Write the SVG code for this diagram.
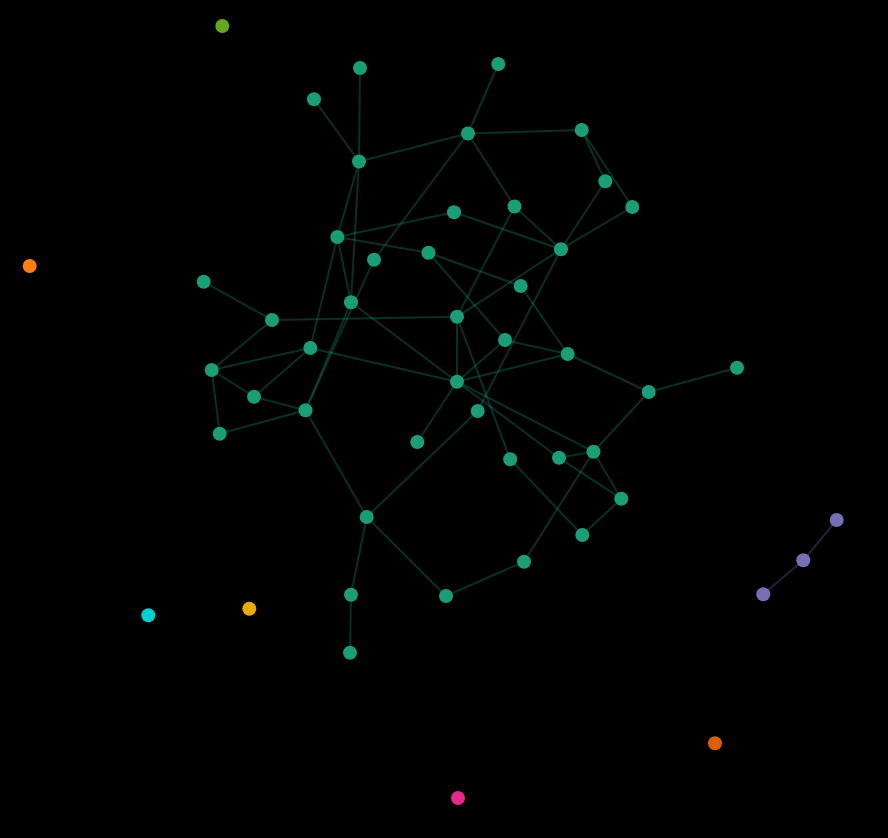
<svg xmlns="http://www.w3.org/2000/svg" width="888" height="838" viewBox="0 0 888 838">
<style>
.bg{fill:#000}
.e line{stroke:#1b9e77;stroke-opacity:0.3;stroke-width:2}
.ep line{stroke:#7570b3;stroke-opacity:0.3;stroke-width:2}
circle{r:7}
.g{fill:#1b9e77}
</style>
<rect class="bg" width="888" height="838"/>
<g id="connectors">
<g class="e">
<line x1="360" y1="68" x2="359" y2="161.5"/>
<line x1="314" y1="99.3" x2="359" y2="161.5"/>
<line x1="498.3" y1="64" x2="468" y2="133.5"/>
<line x1="468" y1="133.5" x2="359" y2="161.5"/>
<line x1="468" y1="133.5" x2="581.7" y2="130"/>
<line x1="468" y1="133.5" x2="514.5" y2="206.5"/>
<line x1="468" y1="133.5" x2="374" y2="259.7"/>
<line x1="581.7" y1="130" x2="605.3" y2="181.3"/>
<line x1="581.7" y1="130" x2="632.3" y2="207"/>
<line x1="605.3" y1="181.3" x2="561" y2="249.2"/>
<line x1="632.3" y1="207" x2="561" y2="249.2"/>
<line x1="514.5" y1="206.5" x2="561" y2="249.2"/>
<line x1="454" y1="212.3" x2="561" y2="249.2"/>
<line x1="454" y1="212.3" x2="337.3" y2="237"/>
<line x1="359" y1="161.5" x2="337.3" y2="237"/>
<line x1="359" y1="161.5" x2="351" y2="302.3"/>
<line x1="337.3" y1="237" x2="428.5" y2="252.7"/>
<line x1="337.3" y1="237" x2="351" y2="302.3"/>
<line x1="337.3" y1="237" x2="310.3" y2="348"/>
<line x1="514.5" y1="206.5" x2="457" y2="316.8"/>
<line x1="428.5" y1="252.7" x2="520.7" y2="286"/>
<line x1="428.5" y1="252.7" x2="505" y2="340"/>
<line x1="561" y1="249.2" x2="457" y2="316.8"/>
<line x1="561" y1="249.2" x2="477.7" y2="411"/>
<line x1="520.7" y1="286" x2="567.7" y2="354"/>
<line x1="505" y1="340" x2="567.7" y2="354"/>
<line x1="505" y1="340" x2="457" y2="381.7"/>
<line x1="457" y1="316.8" x2="457" y2="381.7"/>
<line x1="457" y1="316.8" x2="272" y2="320"/>
<line x1="457" y1="316.8" x2="510.2" y2="459.3"/>
<line x1="457" y1="381.7" x2="567.7" y2="354"/>
<line x1="457" y1="381.7" x2="310.3" y2="348"/>
<line x1="457" y1="381.7" x2="351" y2="302.3"/>
<line x1="457" y1="381.7" x2="417.3" y2="442"/>
<line x1="457" y1="381.7" x2="559" y2="457.8"/>
<line x1="457" y1="381.7" x2="593.5" y2="451.7"/>
<line x1="567.7" y1="354" x2="648.7" y2="392"/>
<line x1="648.7" y1="392" x2="737" y2="367.8"/>
<line x1="648.7" y1="392" x2="593.5" y2="451.7"/>
<line x1="559" y1="457.8" x2="593.5" y2="451.7"/>
<line x1="593.5" y1="451.7" x2="524" y2="561.7"/>
<line x1="593.5" y1="451.7" x2="621.3" y2="498.7"/>
<line x1="559" y1="457.8" x2="621.3" y2="498.7"/>
<line x1="477.7" y1="411" x2="366.7" y2="517"/>
<line x1="305.5" y1="410.3" x2="366.7" y2="517"/>
<line x1="366.7" y1="517" x2="351" y2="594.7"/>
<line x1="366.7" y1="517" x2="446" y2="596"/>
<line x1="446" y1="596" x2="524" y2="561.7"/>
<line x1="510.2" y1="459.3" x2="582.3" y2="535"/>
<line x1="582.3" y1="535" x2="621.3" y2="498.7"/>
<line x1="351" y1="594.7" x2="350" y2="652.7"/>
<line x1="203.7" y1="281.7" x2="272" y2="320"/>
<line x1="272" y1="320" x2="211.7" y2="370"/>
<line x1="211.7" y1="370" x2="310.3" y2="348"/>
<line x1="211.7" y1="370" x2="254" y2="396.7"/>
<line x1="211.7" y1="370" x2="219.7" y2="433.7"/>
<line x1="219.7" y1="433.7" x2="305.5" y2="410.3"/>
<line x1="254" y1="396.7" x2="305.5" y2="410.3"/>
<line x1="254" y1="396.7" x2="310.3" y2="348"/>
<line x1="374" y1="259.7" x2="305.5" y2="410.3"/>
<line x1="351" y1="302.3" x2="305.5" y2="410.3"/>
</g>
<g class="ep">
<line x1="836.7" y1="520" x2="803.3" y2="560.3"/>
<line x1="803.3" y1="560.3" x2="763.3" y2="594.3"/>
</g>
</g>
<g id="nodes">
<g id="n1"><circle class="g" cx="360" cy="68" r="7"/></g>
<g id="n2"><circle class="g" cx="498.3" cy="64" r="7"/></g>
<g id="n3"><circle class="g" cx="314" cy="99.3" r="7"/></g>
<g id="n4"><circle class="g" cx="468" cy="133.5" r="7"/></g>
<g id="n5"><circle class="g" cx="581.7" cy="130" r="7"/></g>
<g id="n6"><circle class="g" cx="359" cy="161.5" r="7"/></g>
<g id="n7"><circle class="g" cx="605.3" cy="181.3" r="7"/></g>
<g id="n8"><circle class="g" cx="632.3" cy="207" r="7"/></g>
<g id="n9"><circle class="g" cx="514.5" cy="206.5" r="7"/></g>
<g id="n10"><circle class="g" cx="454" cy="212.3" r="7"/></g>
<g id="n11"><circle class="g" cx="337.3" cy="237" r="7"/></g>
<g id="n12"><circle class="g" cx="561" cy="249.2" r="7"/></g>
<g id="n13"><circle class="g" cx="374" cy="259.7" r="7"/></g>
<g id="n14"><circle class="g" cx="428.5" cy="252.7" r="7"/></g>
<g id="n15"><circle class="g" cx="520.7" cy="286" r="7"/></g>
<g id="n16"><circle class="g" cx="203.7" cy="281.7" r="7"/></g>
<g id="n17"><circle class="g" cx="351" cy="302.3" r="7"/></g>
<g id="n18"><circle class="g" cx="272" cy="320" r="7"/></g>
<g id="n19"><circle class="g" cx="457" cy="316.8" r="7"/></g>
<g id="n20"><circle class="g" cx="505" cy="340" r="7"/></g>
<g id="n21"><circle class="g" cx="567.7" cy="354" r="7"/></g>
<g id="n22"><circle class="g" cx="310.3" cy="348" r="7"/></g>
<g id="n23"><circle class="g" cx="211.7" cy="370" r="7"/></g>
<g id="n24"><circle class="g" cx="737" cy="367.8" r="7"/></g>
<g id="n25"><circle class="g" cx="457" cy="381.7" r="7"/></g>
<g id="n26"><circle class="g" cx="648.7" cy="392" r="7"/></g>
<g id="n27"><circle class="g" cx="254" cy="396.7" r="7"/></g>
<g id="n28"><circle class="g" cx="305.5" cy="410.3" r="7"/></g>
<g id="n29"><circle class="g" cx="477.7" cy="411" r="7"/></g>
<g id="n30"><circle class="g" cx="219.7" cy="433.7" r="7"/></g>
<g id="n31"><circle class="g" cx="417.3" cy="442" r="7"/></g>
<g id="n32"><circle class="g" cx="510.2" cy="459.3" r="7"/></g>
<g id="n33"><circle class="g" cx="559" cy="457.8" r="7"/></g>
<g id="n34"><circle class="g" cx="593.5" cy="451.7" r="7"/></g>
<g id="n35"><circle class="g" cx="621.3" cy="498.7" r="7"/></g>
<g id="n36"><circle class="g" cx="366.7" cy="517" r="7"/></g>
<g id="n37"><circle class="g" cx="582.3" cy="535" r="7"/></g>
<g id="n38"><circle class="g" cx="524" cy="561.7" r="7"/></g>
<g id="n39"><circle class="g" cx="351" cy="594.7" r="7"/></g>
<g id="n40"><circle class="g" cx="446" cy="596" r="7"/></g>
<g id="n41"><circle class="g" cx="350" cy="652.7" r="7"/></g>
<g id="n42"><circle fill="#66a61e" cx="222.3" cy="26" r="7"/></g>
<g id="n43"><circle fill="#ff7f0e" cx="29.7" cy="266" r="7"/></g>
<g id="n44"><circle fill="#00d0d2" cx="148.3" cy="615.3" r="7"/></g>
<g id="n45"><circle fill="#e6ab02" cx="249.3" cy="608.7" r="7"/></g>
<g id="n46"><circle fill="#d95f02" cx="715" cy="743.3" r="7"/></g>
<g id="n47"><circle fill="#e7298a" cx="458" cy="798" r="7"/></g>
<g id="n48"><circle fill="#7570b3" cx="836.7" cy="520" r="7"/></g>
<g id="n49"><circle fill="#7570b3" cx="803.3" cy="560.3" r="7"/></g>
<g id="n50"><circle fill="#7570b3" cx="763.3" cy="594.3" r="7"/></g>
</g>
</svg>
